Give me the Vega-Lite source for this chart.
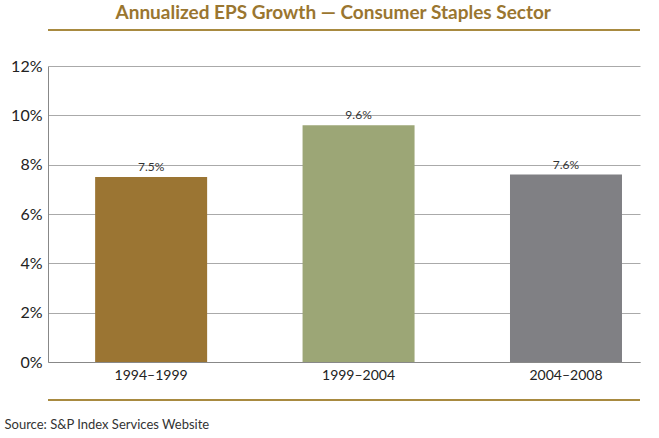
{
"$schema":"https://vega.github.io/schema/vega-lite/v6.json",
"autosize":{"type":"none"},
"padding":{"left":48,"top":66,"right":19,"bottom":76},
"width":592,"height":296,
"background":"white",
"config":{"font":"Lato","view":{"stroke":null}},
"title":{"text":"Chart 2","anchor":"start","frame":"group","dx":-46,"offset":-15,"baseline":"alphabetic","fontSize":19,"fontWeight":"normal","color":"#8a8a8a","font":"Lato"},
"data":{"values":[
{"period":"1994–1999","eps":7.5},
{"period":"1999–2004","eps":9.6},
{"period":"2004–2008","eps":7.6}]},
"layer":[
{"mark":{"type":"bar","width":112},
"encoding":{
"x":{"field":"period","type":"nominal","sort":null,"scale":{"paddingInner":0.38,"paddingOuter":0.117,"align":0.8},
"axis":{"labelAngle":0,"labelFontSize":14,"labelColor":"#222","ticks":false,"domainColor":"#888","title":"Source: S&P Index Services Website","titleFontSize":13,"titleFontWeight":"normal","titleColor":"#333","titleX":-44,"titleY":66,"titleAlign":"left","titleBaseline":"alphabetic","labelPadding":6}},
"y":{"field":"eps","type":"quantitative","scale":{"domain":[0,12]},
"axis":{"tickCount":6,"labelExpr":"datum.value+'%'","labelFontSize":16,"labelColor":"#222","ticks":false,"domainColor":"#888","gridColor":"#aaa","labelPadding":6,
"title":"Annualized EPS Growth — Consumer Staples Sector","titleAngle":0,"titleX":67,"titleY":-48,"titleAlign":"left","titleBaseline":"alphabetic","titleFontSize":19,"titleFontWeight":"bold","titleColor":"#9a7630"}},
"color":{"field":"period","type":"nominal","legend":null,"scale":{"range":["#9b7533","#9ca676","#808084"]}}}},
{"mark":{"type":"text","dy":-10,"fontSize":12,"color":"#333"},
"encoding":{"x":{"field":"period","type":"nominal","sort":null},"y":{"field":"eps","type":"quantitative"},"text":{"value":{"expr":"format(datum.eps,'.1f')+'%'"}}}},
{"mark":{"type":"rule","color":"#a88a40","strokeWidth":2,"clip":false},"encoding":{"y":{"datum":13.46}}},
{"mark":{"type":"rule","color":"#a88a40","strokeWidth":2,"clip":false},"encoding":{"y":{"datum":-1.54}}}
]}
